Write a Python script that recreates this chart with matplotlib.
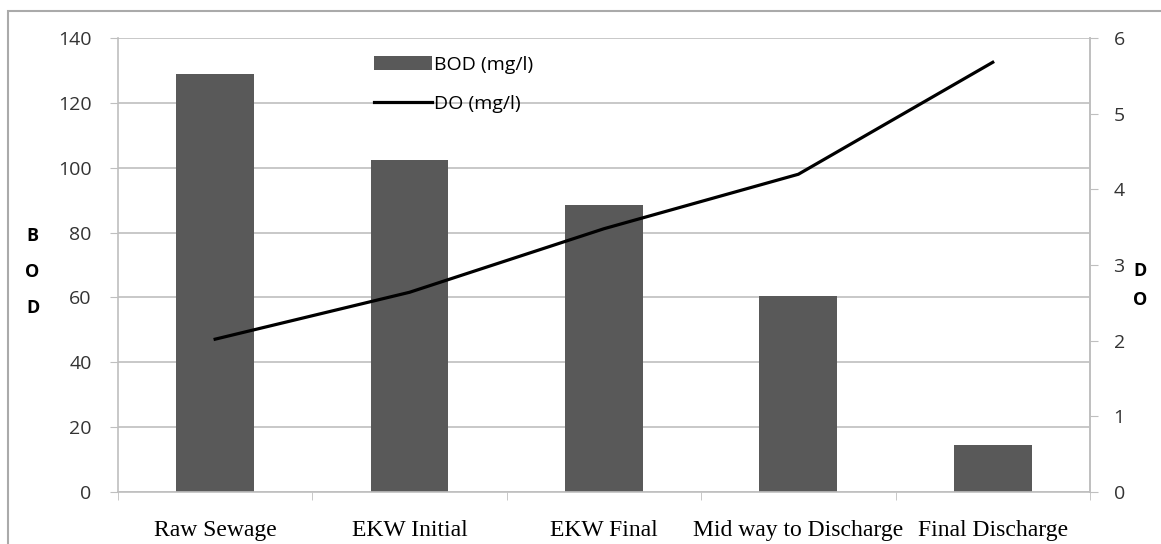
import matplotlib.pyplot as plt
import numpy as np
from matplotlib.patches import Rectangle

categories = ["Raw Sewage", "EKW Initial", "EKW Final", "Mid way to Discharge", "Final Discharge"]
bod = [129, 102.5, 88.5, 60.5, 14.5]
do = [2.02, 2.64, 3.48, 4.2, 5.68]
bod_ticks = [0, 20, 40, 60, 80, 100, 120, 140]
do_ticks = [0, 1, 2, 3, 4, 5, 6]

grey = "#bfbfbf"
sans = ["Open Sans", "DejaVu Sans"]
serif = ["Liberation Serif", "DejaVu Serif"]

fig = plt.figure(figsize=(11.61, 5.44), dpi=100)
fig.patches.append(Rectangle((0.007, -0.01), 1.0, 0.99, transform=fig.transFigure,
                             fill=False, edgecolor="#aaaaaa", linewidth=1.5))
ax = fig.add_axes([0.1016, 0.0956, 0.8372, 0.8344])
x = np.arange(len(categories))

ax.bar(x, bod, width=0.4, color="#595959", label="BOD (mg/l)", zorder=2)
ax.set_ylim(0, 140)
ax.set_xlim(-0.5, len(categories) - 0.5)
ax.set_yticks(bod_ticks)
ax.set_yticklabels([str(t) for t in bod_ticks], fontfamily=sans, fontsize=14, color="#333333")
ax.grid(axis="y", color=grey, linewidth=1.2, zorder=0)
ax.set_axisbelow(True)

ax.set_xticks(x)
ax.set_xticklabels(categories, fontfamily=serif, fontsize=17)
ax.set_xticks(np.arange(-0.5, len(categories), 1.0), minor=True)
ax.tick_params(axis="x", which="major", length=0, pad=20)
ax.tick_params(axis="x", which="minor", length=6, color=grey)
ax.tick_params(axis="y", length=6, color=grey, pad=13)

ax.spines["top"].set_visible(False)
for side in ["left", "right", "bottom"]:
    ax.spines[side].set_color(grey)
    ax.spines[side].set_linewidth(1.2)

ax2 = ax.twinx()
ax2.plot(x, do, color="black", linewidth=2.3, label="DO (mg/l)", zorder=3)
ax2.set_ylim(0, 6)
ax2.set_yticks(do_ticks)
ax2.set_yticklabels([str(t) for t in do_ticks], fontfamily=sans, fontsize=14, color="#333333")
ax2.tick_params(axis="y", length=6, color=grey, pad=11)
for side in ["top", "left", "bottom"]:
    ax2.spines[side].set_visible(False)
ax2.spines["right"].set_color(grey)
ax2.spines["right"].set_linewidth(1.2)

fig.text(0.028, 0.5, "B\nO\nD", fontfamily=sans, fontsize=13, fontweight="bold",
         ha="center", va="center", linespacing=2.3)
fig.text(0.982, 0.475, "D\nO", fontfamily=sans, fontsize=13, fontweight="bold",
         ha="center", va="center", linespacing=1.75)

h1, l1 = ax.get_legend_handles_labels()
h2, l2 = ax2.get_legend_handles_labels()
ax2.legend(h1 + h2, l1 + l2, loc="upper left", bbox_to_anchor=(0.245, 1.0),
           frameon=False, prop={"family": sans, "size": 14},
           handlelength=3.0, handleheight=0.75, handletextpad=0.1, labelspacing=1.1)

fig.savefig("out.png", dpi=100)
plt.close(fig)
